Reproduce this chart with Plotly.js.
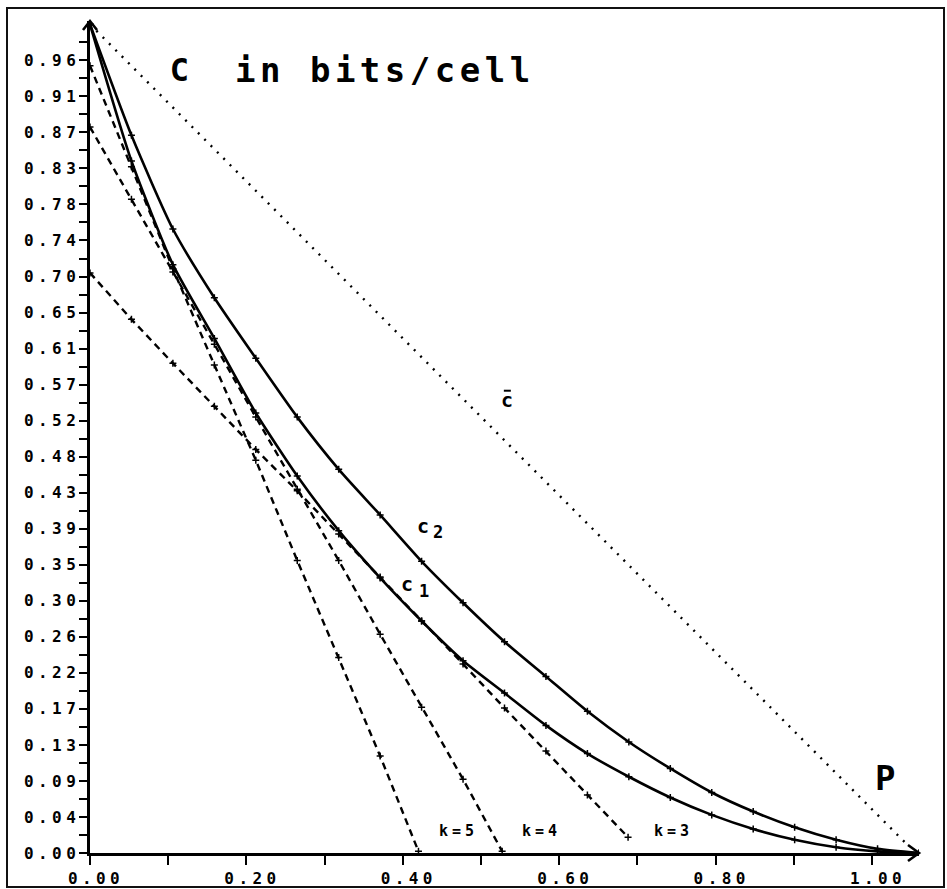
<!DOCTYPE html>
<html>
<head>
<meta charset="utf-8">
<script src="https://cdn.plot.ly/plotly-3.0.1.min.js"></script>
<style>
  html, body { margin: 0; padding: 0; background: #fff; }
  #chart { width: 947px; height: 889px; }
  #frame { position: absolute; left: 6px; top: 7px; width: 939px; height: 881px;
           box-sizing: border-box; border: 2px solid #111; pointer-events: none; }
  .xtick text, .ytick text { letter-spacing: 4.4px; }
  g.annotation[data-index="0"] text, g.annotation[data-index="1"] text { letter-spacing: 4.5px; }
  g.annotation[data-index="2"] text, g.annotation[data-index="3"] text,
  g.annotation[data-index="4"] text { letter-spacing: 4px; }
</style>
</head>
<body>
<div id="chart"></div>
<div id="frame"></div>
<script>
// Defect probability p (axis units) at which the curves are sampled
const pGrid  = [0, 0.053, 0.106, 0.159, 0.212, 0.265, 0.318, 0.371, 0.424, 0.477, 0.530,
                0.583, 0.636, 0.689, 0.742, 0.795, 0.848, 0.901, 0.954, 1.007, 1.060];
// Capacity curves C2 (upper) and C1 (lower), bits per cell
const c2Vals = [1.000, 0.866, 0.753, 0.670, 0.597, 0.526, 0.463, 0.408, 0.352, 0.302, 0.255,
                0.213, 0.171, 0.134, 0.102, 0.073, 0.050, 0.031, 0.016, 0.005, 0.000];
const c1Vals = [1.000, 0.835, 0.710, 0.621, 0.531, 0.455, 0.389, 0.332, 0.280, 0.232, 0.193,
                0.154, 0.120, 0.092, 0.067, 0.046, 0.029, 0.016, 0.007, 0.002, 0.000];
// Upper bound C-bar (dotted)
const cBarP    = [0, 1.045];
const cBarVals = [1.000, 0.010];
// Rates of the k-codes (dashed)
const k3P    = [0, 0.053, 0.106, 0.159, 0.212, 0.265, 0.318, 0.371, 0.424, 0.477, 0.530, 0.583, 0.636, 0.688];
const k3Vals = [0.700, 0.644, 0.591, 0.539, 0.487, 0.437, 0.385, 0.333, 0.280, 0.228, 0.175, 0.123, 0.070, 0.019];
const k4P    = [0, 0.053, 0.106, 0.159, 0.212, 0.265, 0.318, 0.371, 0.424, 0.477, 0.527];
const k4Vals = [0.876, 0.789, 0.701, 0.614, 0.526, 0.439, 0.353, 0.264, 0.176, 0.089, 0.002];
const k5P    = [0, 0.053, 0.106, 0.159, 0.212, 0.265, 0.318, 0.371, 0.420];
const k5Vals = [0.950, 0.828, 0.705, 0.589, 0.474, 0.353, 0.236, 0.117, 0.002];

// Axis tick labels
const xTickVals  = [0, 0.2, 0.4, 0.6, 0.8, 1.0];
const xTickText  = ['0.00', '0.20', '0.40', '0.60', '0.80', '1.00'];
const xMinorVals = [0.1, 0.3, 0.5, 0.7, 0.9];
const yTickLabels = ['0.00', '0.04', '0.09', '0.13', '0.17', '0.22', '0.26', '0.30', '0.35', '0.39',
                     '0.43', '0.48', '0.52', '0.57', '0.61', '0.65', '0.70', '0.74', '0.78', '0.83',
                     '0.87', '0.91', '0.96'];

// y ticks: labelled every 1/23, minor ticks at the half steps
const yTickVals = [], yMinorVals = [];
for (let i = 0; i < yTickLabels.length; i++) {
  yTickVals.push(i / 23);
  yMinorVals.push((i + 0.5) / 23);
}

const INK = '#000';
const MONO = 'DejaVu Sans Mono, monospace';
const tickMark = { symbol: 'cross-thin', size: 5, color: INK, line: { color: INK, width: 1.5 } };

const traces = [
  { x: cBarP, y: cBarVals, mode: 'lines', line: { color: INK, width: 2.4, dash: '2px,7px' }, name: 'C̄' },
  { x: pGrid, y: c2Vals, mode: 'lines+markers', line: { color: INK, width: 2.6, shape: 'spline', smoothing: 0.6 }, marker: tickMark, name: 'C2' },
  { x: pGrid, y: c1Vals, mode: 'lines+markers', line: { color: INK, width: 2.6, shape: 'spline', smoothing: 0.6 }, marker: tickMark, name: 'C1' },
  { x: k3P, y: k3Vals, mode: 'lines+markers', line: { color: INK, width: 2.4, dash: '7px,5px' }, marker: tickMark, name: 'k=3' },
  { x: k4P, y: k4Vals, mode: 'lines+markers', line: { color: INK, width: 2.4, dash: '7px,5px' }, marker: tickMark, name: 'k=4' },
  { x: k5P, y: k5Vals, mode: 'lines+markers', line: { color: INK, width: 2.4, dash: '7px,5px' }, marker: tickMark, name: 'k=5' }
];

function label(text, x, y, size, extra) {
  return Object.assign({ text: text, x: x, y: y, xref: 'x', yref: 'y', showarrow: false,
    font: { family: MONO, size: size, color: INK, weight: 'bold' } }, extra || {});
}

// position of the C-bar label (the bar itself is a shape anchored here)
const cBarLabelAt = [0.533, 0.547];

const annotations = [
  label('C', 0.1164, 0.945, 32),
  label('in bits/cell', 0.377, 0.945, 34),
  label('k=5', 0.471, 0.026, 15),
  label('k=4', 0.5775, 0.026, 15),
  label('k=3', 0.746, 0.026, 15),
  label('c', cBarLabelAt[0], cBarLabelAt[1], 20),
  label('c', 0.4258, 0.3945, 20),
  label('2', 0.4445, 0.3870, 17),
  label('c', 0.4054, 0.3245, 20),
  label('1', 0.4275, 0.3160, 17),
  label('P', 1.016, 0.091, 34)
];

const shapes = [
  // arrow heads at the ends of both axes
  { type: 'path', xref: 'paper', yref: 'paper', xsizemode: 'pixel', ysizemode: 'pixel',
    xanchor: 1, yanchor: 0, path: 'M -11,8 L 0,0 L -11,-8', line: { color: INK, width: 2.6 } },
  { type: 'path', xref: 'paper', yref: 'paper', xsizemode: 'pixel', ysizemode: 'pixel',
    xanchor: 0, yanchor: 1, path: 'M -7,-9 L 0,0 L 7,-9', line: { color: INK, width: 2.6 } },
  // bar over the "c" of C-bar
  { type: 'line', xref: 'x', yref: 'y', xsizemode: 'pixel', ysizemode: 'pixel',
    xanchor: cBarLabelAt[0], yanchor: cBarLabelAt[1], x0: -3, x1: 4, y0: 9, y1: 9,
    line: { color: INK, width: 2 } }
];

const tickStyle = { ticks: 'outside', tickwidth: 2, tickcolor: INK };

const layout = {
  width: 947, height: 889,
  margin: { l: 90, r: 28, t: 21, b: 36 },
  paper_bgcolor: '#fff', plot_bgcolor: '#fff',
  showlegend: false,
  xaxis: Object.assign({
    range: [0, 1.06], showgrid: false, zeroline: false,
    showline: true, linecolor: INK, linewidth: 2.6,
    tickmode: 'array', tickvals: xTickVals, ticktext: xTickText, ticklen: 9,
    minor: Object.assign({ tickmode: 'array', tickvals: xMinorVals, ticklen: 9, showgrid: false }, tickStyle),
    tickfont: { family: MONO, size: 16, color: INK, weight: 'bold' }
  }, tickStyle),
  yaxis: Object.assign({
    range: [0, 1.004], showgrid: false, zeroline: false,
    showline: true, linecolor: INK, linewidth: 2.6,
    tickmode: 'array', tickvals: yTickVals, ticktext: yTickLabels, ticklen: 8,
    minor: Object.assign({ tickmode: 'array', tickvals: yMinorVals, ticklen: 8, showgrid: false }, tickStyle),
    tickfont: { family: MONO, size: 16, color: INK, weight: 'bold' }
  }, tickStyle),
  annotations: annotations,
  shapes: shapes
};

Plotly.newPlot('chart', traces, layout, { staticPlot: true, displayModeBar: false }).then(function (gd) {
  // nudge the letter-spaced tick labels so they sit centred on / flush with their ticks
  gd.querySelectorAll('.xtick text').forEach(function (t) { t.setAttribute('dx', 6); });
  gd.querySelectorAll('.ytick text').forEach(function (t) { t.setAttribute('dx', 4); });
});
</script>
</body>
</html>
